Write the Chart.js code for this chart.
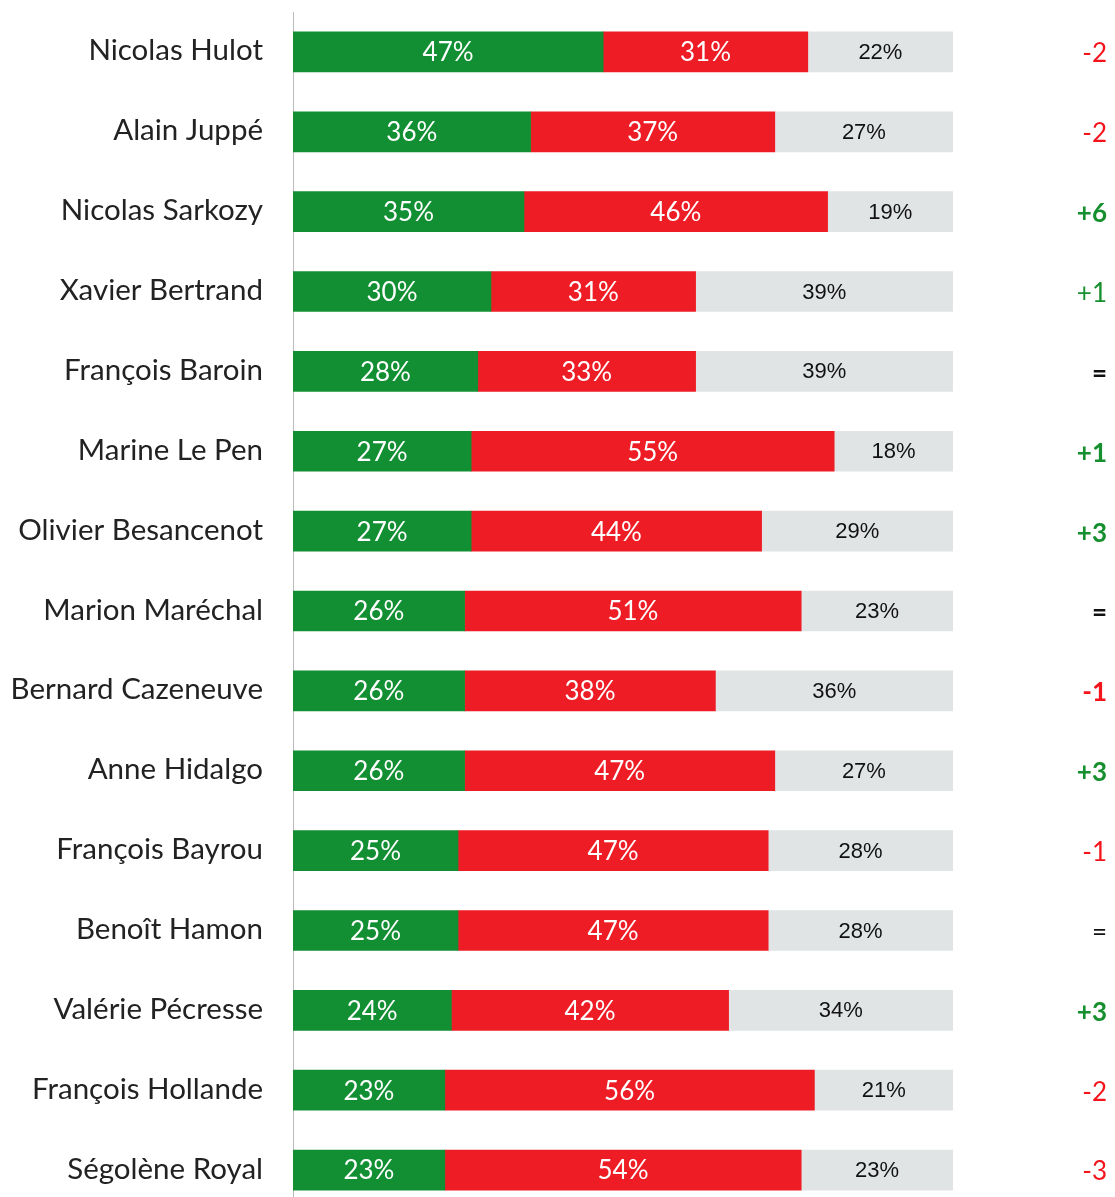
<!DOCTYPE html>
<html>
    <head>
        <meta charset="utf-8">
        <script src="https://cdn.jsdelivr.net/npm/chart.js@4/dist/chart.umd.min.js"></script>
        <style>
            html, body { margin: 0; padding: 0; background: #fff; overflow: hidden; }
            #wrap { width: 1115px; height: 1212px; }
        </style>
    </head>
    <body>
        <div id="wrap"><canvas id="chart" width="1115" height="1212"></canvas></div>
        <script>
            const names = ["Nicolas Hulot", "Alain Juppé", "Nicolas Sarkozy", "Xavier Bertrand", "François Baroin",
                "Marine Le Pen", "Olivier Besancenot", "Marion Maréchal", "Bernard Cazeneuve", "Anne Hidalgo",
                "François Bayrou", "Benoît Hamon", "Valérie Pécresse", "François Hollande", "Ségolène Royal"];
            const positive = [47, 36, 35, 30, 28, 27, 27, 26, 26, 26, 25, 25, 24, 23, 23];
            const negative = [31, 37, 46, 31, 33, 55, 44, 51, 38, 47, 47, 47, 42, 56, 54];
            const noOpinion = [22, 27, 19, 39, 39, 18, 29, 23, 36, 27, 28, 28, 34, 21, 23];
            const changes = ["-2", "-2", "+6", "+1", "=", "+1", "+3", "=", "-1", "+3", "-1", "=", "+3", "-2", "-3"];
            const changeBold = [false, false, true, false, true, true, true, true, true, true, false, false, true, false, false];

            // names on the left, labels inside segments, change column on the right
            const labelPlugin = {
                id: "labels",
                afterDatasetsDraw(chart) {
                    const ctx = chart.ctx;
                    ctx.save();
                    ctx.textBaseline = "middle";
                    const first = chart.getDatasetMeta(0);

                    ctx.textAlign = "right";
                    ctx.fillStyle = "#222";
                    ctx.font = "29.5px Lato";
                    first.data.forEach(function(bar, i) {
                        ctx.fillText(names[i], 263, bar.y - 1);
                    });

                    ctx.textAlign = "center";
                    chart.data.datasets.forEach(function(ds, di) {
                        const meta = chart.getDatasetMeta(di);
                        meta.data.forEach(function(bar, i) {
                            const x = (bar.x + bar.base) / 2;
                            if (di < 2) {
                                ctx.fillStyle = "#fff";
                                ctx.font = "26px Lato";
                            } else {
                                ctx.fillStyle = "#111";
                                ctx.font = "22px 'Liberation Sans'";
                            }
                            ctx.fillText(ds.data[i] + "%", x, bar.y + 1);
                        });
                    });

                    ctx.textAlign = "right";
                    first.data.forEach(function(bar, i) {
                        const c = changes[i];
                        ctx.fillStyle = c[0] == "-" ? "#f5141c" : (c[0] == "+" ? "#168f2e" : "#111");
                        ctx.font = (changeBold[i] ? "bold " : "") + "26px Lato";
                        ctx.fillText(c, 1107, bar.y + 2);
                    });
                    ctx.restore();
                }
            };

            new Chart(document.getElementById("chart"), {
                type: "bar",
                data: {
                    labels: names,
                    datasets: [
                        { label: "Bonne opinion", data: positive, backgroundColor: "#128f32" },
                        { label: "Mauvaise opinion", data: negative, backgroundColor: "#ee1c25" },
                        { label: "NSP", data: noOpinion, backgroundColor: "#e1e4e5" }
                    ]
                },
                options: {
                    indexAxis: "y",
                    responsive: false,
                    animation: false,
                    layout: { padding: { top: 12, right: 162, bottom: 2, left: 0 } },
                    datasets: { bar: { barThickness: 40 } },
                    plugins: { legend: { display: false }, tooltip: { enabled: false } },
                    scales: {
                        x: {
                            stacked: true, min: 0, max: 100,
                            display: false
                        },
                        y: {
                            stacked: true,
                            grid: { display: false, drawTicks: false },
                            border: { display: true, color: "#bbbbbb", width: 1 },
                            ticks: { display: false },
                            afterFit: function(scale) { scale.width = 293; }
                        }
                    }
                },
                plugins: [labelPlugin]
            });
        </script>
    </body>
</html>
